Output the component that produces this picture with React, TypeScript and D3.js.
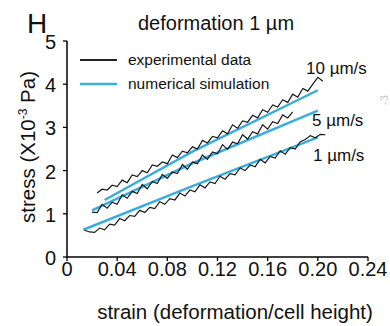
import * as d3 from 'd3';

// strain / stress pairs
const exp10: [number, number][] = [
  [0.024, 1.48], [0.028, 1.57], [0.032, 1.55], [0.036, 1.66], [0.04, 1.63], [0.044, 1.78],
  [0.048, 1.72], [0.052, 1.9], [0.056, 1.86], [0.06, 2.0], [0.064, 1.95], [0.068, 2.13],
  [0.072, 2.1], [0.076, 2.2], [0.08, 2.16], [0.084, 2.36], [0.088, 2.3], [0.092, 2.45],
  [0.096, 2.41], [0.1, 2.55], [0.104, 2.5], [0.108, 2.7], [0.112, 2.64], [0.116, 2.79],
  [0.12, 2.76], [0.124, 2.92], [0.128, 2.85], [0.132, 3.06], [0.136, 2.98], [0.14, 3.15],
  [0.144, 3.12], [0.148, 3.28], [0.152, 3.22], [0.156, 3.41], [0.16, 3.35], [0.164, 3.52],
  [0.168, 3.47], [0.172, 3.64], [0.176, 3.58], [0.18, 3.77], [0.184, 3.7], [0.188, 3.9],
  [0.192, 3.84], [0.196, 4.0], [0.2, 4.16], [0.204, 4.07],
];
const exp5: [number, number][] = [
  [0.02, 1.04], [0.024, 1.03], [0.028, 1.22], [0.032, 1.13], [0.036, 1.27], [0.04, 1.22],
  [0.044, 1.44], [0.048, 1.36], [0.052, 1.52], [0.056, 1.47], [0.06, 1.68], [0.064, 1.58],
  [0.068, 1.75], [0.072, 1.7], [0.076, 1.91], [0.08, 1.82], [0.084, 1.97], [0.088, 1.93],
  [0.092, 2.14], [0.096, 2.03], [0.1, 2.2], [0.104, 2.16], [0.108, 2.36], [0.112, 2.26],
  [0.116, 2.43], [0.12, 2.39], [0.124, 2.6], [0.128, 2.49], [0.132, 2.66], [0.136, 2.62],
  [0.14, 2.83], [0.144, 2.73], [0.148, 2.9], [0.152, 2.85], [0.156, 3.06], [0.16, 2.96],
  [0.164, 3.13], [0.168, 3.09], [0.172, 3.29], [0.176, 3.22], [0.18, 3.36],
];
const exp1: [number, number][] = [
  [0.014, 0.62], [0.018, 0.58], [0.022, 0.57], [0.026, 0.67], [0.03, 0.63], [0.034, 0.76],
  [0.038, 0.74], [0.042, 0.89], [0.046, 0.84], [0.05, 0.96], [0.054, 0.94], [0.058, 1.08],
  [0.062, 1.03], [0.066, 1.15], [0.07, 1.12], [0.074, 1.28], [0.078, 1.22], [0.082, 1.35],
  [0.086, 1.32], [0.09, 1.48], [0.094, 1.41], [0.098, 1.55], [0.102, 1.51], [0.106, 1.67],
  [0.11, 1.6], [0.114, 1.74], [0.118, 1.7], [0.122, 1.87], [0.126, 1.8], [0.13, 1.93],
  [0.134, 1.9], [0.138, 2.06], [0.142, 2.0], [0.146, 2.13], [0.15, 2.09], [0.154, 2.26],
  [0.158, 2.18], [0.162, 2.33], [0.166, 2.29], [0.17, 2.46], [0.174, 2.38], [0.178, 2.53],
  [0.182, 2.5], [0.186, 2.67], [0.19, 2.72], [0.194, 2.81], [0.198, 2.76], [0.202, 2.84],
  [0.206, 2.83],
];

const sim10: [number, number][] = [[0.03, 1.32], [0.1, 2.44], [0.2, 3.86]];
const sim5: [number, number][] = [[0.02, 1.08], [0.1, 2.17], [0.2, 3.39]];
const sim1: [number, number][] = [[0.013, 0.63], [0.1, 1.64], [0.2, 2.77]];

const speedLabels = ['10 µm/s', '5 µm/s', '1 µm/s'];
const xTicks = [0, 0.04, 0.08, 0.12, 0.16, 0.2, 0.24];
const xTickLabels = ['0', '0.04', '0.08', '0.12', '0.16', '0.20', '0.24'];
const yTicks = [0, 1, 2, 3, 4, 5];

const BLUE = '#3aaedb';
const FONT = '"Liberation Sans", Arial, sans-serif';

export default function App() {
  const width = 390;
  const height = 326;
  const x = d3.scaleLinear().domain([0, 0.24]).range([67, 368]);
  const y = d3.scaleLinear().domain([0, 5]).range([257, 41]);
  const line = d3
    .line<[number, number]>()
    .x((d) => x(d[0]))
    .y((d) => y(d[1]));

  const labelPos = [
    { x: 306, y: 74 },
    { x: 312, y: 126 },
    { x: 313, y: 161 },
  ];

  return (
    <svg
      width={width}
      height={height}
      style={{ position: 'absolute', left: 0, top: 0, background: '#fff' }}
      fontFamily={FONT}
      fill="#111"
    >
      <text x={27} y={33} fontSize={28}>H</text>
      <text x={138} y={30} fontSize={20}>deformation 1 µm</text>

      {/* legend */}
      <line x1={80} x2={117} y1={60} y2={60} stroke="#222" strokeWidth={2} />
      <text x={128} y={65} fontSize={15.5}>experimental data</text>
      <line x1={80} x2={117} y1={84} y2={84} stroke={BLUE} strokeWidth={2.5} />
      <text x={128} y={89} fontSize={15.5}>numerical simulation</text>

      {/* axes */}
      <line x1={x(0)} x2={x(0)} y1={y(5)} y2={y(0)} stroke="#000" strokeWidth={1.5} />
      <line x1={x(0)} x2={x(0.24)} y1={y(0)} y2={y(0)} stroke="#000" strokeWidth={1.5} />
      {yTicks.map((t) => (
        <g key={t}>
          <line x1={x(0) - 4} x2={x(0)} y1={y(t)} y2={y(t)} stroke="#000" strokeWidth={1.3} />
          <text x={56} y={y(t) + 1} fontSize={20} textAnchor="end" dominantBaseline="central">
            {t}
          </text>
        </g>
      ))}
      {xTicks.map((t, i) => (
        <g key={t}>
          <line x1={x(t)} x2={x(t)} y1={y(0)} y2={y(0) + 4} stroke="#000" strokeWidth={1.3} />
          <text x={x(t)} y={276} fontSize={20} textAnchor="middle">
            {xTickLabels[i]}
          </text>
        </g>
      ))}
      <text x={235} y={319} fontSize={20.5} textAnchor="middle">
        strain (deformation/cell height)
      </text>
      <text transform="translate(35,147) rotate(-90)" fontSize={20.5} textAnchor="middle">
        stress (X10<tspan dy={-8} fontSize={12}>-3</tspan>
        <tspan dy={8}> Pa)</tspan>
      </text>

      {/* data */}
      {[sim10, sim5, sim1].map((s, i) => (
        <path key={'s' + i} d={line(s) ?? ''} fill="none" stroke={BLUE} strokeWidth={2.5} />
      ))}
      {[exp10, exp5, exp1].map((s, i) => (
        <path key={'e' + i} d={line(s) ?? ''} fill="none" stroke="#1a1a1a" strokeWidth={1.2} />
      ))}
      {speedLabels.map((l, i) => (
        <text key={l} x={labelPos[i].x} y={labelPos[i].y} fontSize={17}>
          {l}
        </text>
      ))}

      {/* edge of the neighbouring panel */}
      <text transform="translate(388,100) rotate(-90)" fontSize={11} fill="#c8c8c8" textAnchor="middle">
        -3
      </text>
    </svg>
  );
}
